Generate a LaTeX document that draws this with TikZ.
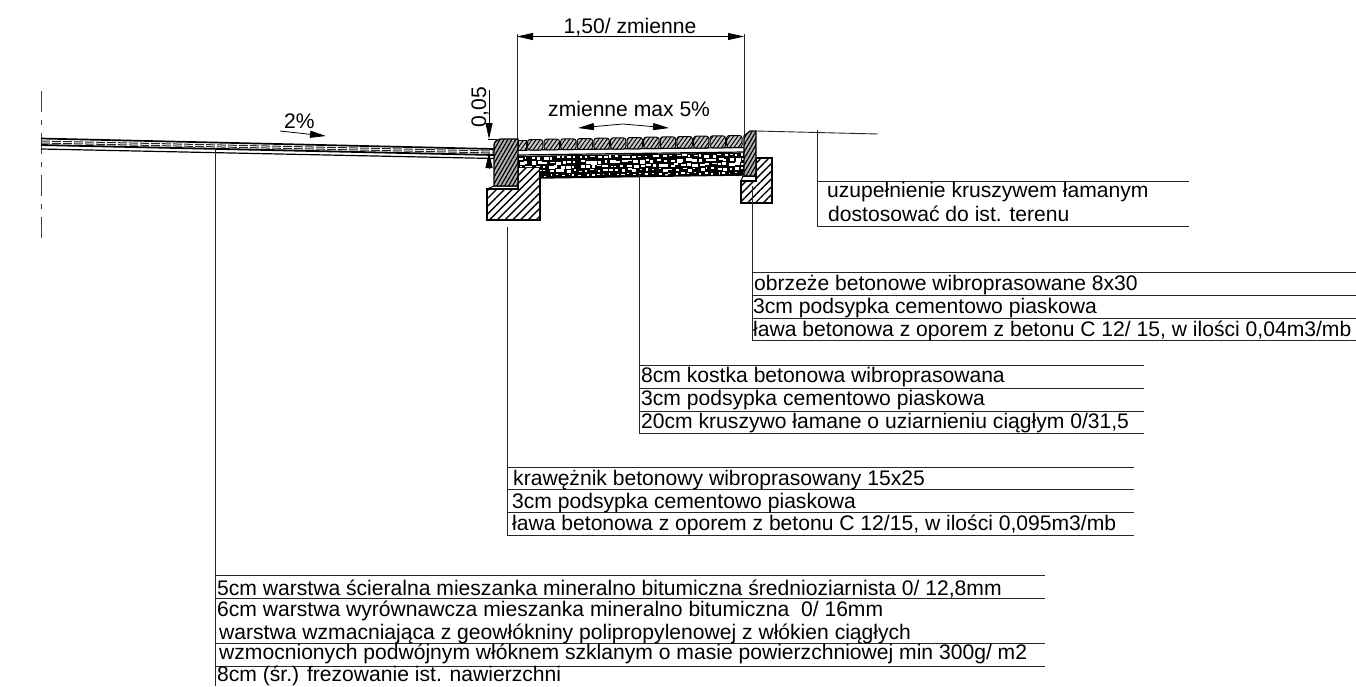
\documentclass[tikz,border=0pt]{standalone}
\usepackage{fontspec}
\setmainfont{Liberation Sans}
\usetikzlibrary{arrows.meta,patterns.meta}
\tikzset{
    opis/.style={anchor=base west, inner sep=0pt, font=\fontsize{21.1}{25}\selectfont},
    linia/.style={line width=0.9pt, black!85},
    ostro/.style={line width=0.8pt, >={Triangle[length=16pt,width=7pt]}},
    beton/.style={draw, line width=1.3pt, pattern={Lines[angle=45,distance=5.5pt,line width=1.4pt]}},
    krawez/.style={draw, line width=1.3pt, fill=black!30, postaction={pattern={Lines[angle=60,distance=3.4pt,line width=1.2pt]}}},
    kostka/.style={draw, line width=1pt, rounded corners=2.5pt, fill=black!22, postaction={pattern={Lines[angle=55,distance=3.4pt,line width=1pt]}}}
}
\begin{document}
\begin{tikzpicture}[x=1pt, y=-1pt]
    \useasboundingbox (0,0) rectangle (1356,686);

    % os i jezdnia
    \draw[line width=1pt, black!75, dash pattern=on 21pt off 8pt on 5pt off 8pt] (41,91) -- (41,240);
    \draw[line width=1.7pt] (41,138.5) -- (494,149);
    \draw[line width=1pt, black!85, dash pattern=on 9pt off 2pt] (41,141) -- (494,151);
    \draw[line width=1pt, black!85, dash pattern=on 9pt off 2pt] (41,143) -- (494,153);
    \draw[line width=1.8pt] (41,145) -- (494,155);
    \draw[line width=1.2pt] (41,149) -- (494,158.5);
    \coordinate (jezdnia) at (215,148);

    % lawa i kraweznik
    \draw[beton] (487,189) -- (518,189) -- (518,167) -- (540,167) -- (540,220) -- (487,220) -- cycle;
    \draw[line width=1pt] (487,189) -- (494,186) -- (518,186) -- (518,189);
    \draw[krawez] (494,186) -- (494,145) to[out=90,in=180] (502,139) -- (518,139) -- (518,186) -- cycle;

    % kruszywo
    \begin{scope}
        \clip (518,156) -- (744,152.5) -- (744,175) -- (540,178) -- (540,167) -- (518,167) -- cycle;
        \fill (518,150) rectangle (744,180);
        \pgfmathsetseed{11}
        \foreach \rz/\yy/\sz in {0/156.5/0.85,1/161/1.05,2/165.5/1,3/170/0.8,4/174.5/0.6}{
            \foreach \xx in {518,524,...,744}{
                \pgfmathsetmacro\ww{(2+4*rnd)*\sz}
                \pgfmathsetmacro\hh{(1.5+2*rnd)*\sz}
                \pgfmathsetmacro\dx{3*rnd}
                \pgfmathsetmacro\dy{1.5*rnd-(\xx-518)*0.0155}
                \fill[white] (\xx+\dx,\yy+\dy) rectangle ++(\ww,\hh);
            }
        }
    \end{scope}
    \draw[line width=1.2pt] (518,150) -- (744,147.5);
    \draw[line width=1.2pt] (518,155) -- (744,152);
    \draw[line width=1.4pt] (540,178) -- (744,175);

    % kostka
    \draw[kostka, rounded corners=0pt] (518,140.5) rectangle (526,150);
    \foreach \nr in {0,...,12}{
        \pgfmathsetmacro\xa{527.5+16.6*\nr}
        \pgfmathsetmacro\ya{139.5-0.33*\nr}
        \pgfmathsetmacro\yb{150-0.2*\nr}
        \draw[kostka] (\xa,\yb) rectangle (\xa+15.4,\ya);
    }

    % obrzeze i lawa
    \draw[beton] (741,181) -- (756,181) -- (756,158) -- (772,158) -- (772,203) -- (741,203) -- cycle;
    \draw[line width=1pt] (743,176) -- (741,181);
    \draw[line width=1pt] (743,176) -- (756,176);
    \draw[krawez] (744,176) -- (744,136) -- (750,131) -- (756,131) -- (756,176) -- cycle;
    \coordinate (teren a) at (756,131);
    \coordinate (teren b) at (878,134);
    \draw[linia] (teren a) -- (teren b);

    % wymiary
    \coordinate (wym a) at (517,34);
    \coordinate (wym b) at (744,34);
    \coordinate (wym c) at (517,139);
    \coordinate (wym d) at (744,135);
    \coordinate (wym e) at (517,36.5);
    \coordinate (wym f) at (744,36.5);
    \draw[linia] (wym a) -- (wym c);
    \draw[linia] (wym b) -- (wym d);
    \draw[ostro, <->] (wym e) -- (wym f);
    \node[opis, anchor=base] (szer) at (630,33) {1,50/ zmienne};

    \node[opis] (spadek) at (548,116) {zmienne max 5\%};
    \coordinate (sp a) at (578,128);
    \coordinate (sp b) at (623,124);
    \coordinate (sp c) at (669,128);
    \draw[ostro, <->] (sp a) -- (sp b) -- (sp c);

    \node[opis] (proc) at (284,128) {2\%};
    \coordinate (pr a) at (280,131);
    \coordinate (pr b) at (326,136);
    \draw[ostro, ->] (pr a) -- (pr b);

    \node[opis, rotate=90] (grub) at (486,128) {0,05};
    \coordinate (gr a) at (489,90);
    \coordinate (gr b) at (489,139);
    \coordinate (gr c) at (489,168);
    \coordinate (gr d) at (489,152);
    \draw[ostro, ->] (gr a) -- (gr b);
    \draw[ostro, ->] (gr c) -- (gr d);
    \draw[line width=0.6pt] (488,139) -- (497,139);

    % uzupelnienie
    \coordinate (uz a) at (817.5,130);
    \coordinate (uz b) at (817.5,226);
    \coordinate (uz c) at (817.5,181);
    \coordinate (uz d) at (1189,181);
    \coordinate (uz e) at (1189,226);
    \draw[linia] (uz a) -- (uz b) -- (uz e);
    \draw[linia] (uz c) -- (uz d);
    \node[opis] (uz t1) at (827,197) {uzupełnienie kruszywem łamanym};
    \node[opis] (uz t2) at (828,221) {dostosować do ist. terenu};

    % obrzeze
    \coordinate (ob a) at (752,186);
    \coordinate (ob b) at (752,340.5);
    \coordinate (ob c) at (752,272);
    \coordinate (ob d) at (1356,272);
    \coordinate (ob e) at (752,295);
    \coordinate (ob f) at (1356,295);
    \coordinate (ob g) at (752,318);
    \coordinate (ob h) at (1356,318);
    \coordinate (ob i) at (1356,340.5);
    \draw[linia] (ob a) -- (ob b) -- (ob i);
    \draw[linia] (ob c) -- (ob d);
    \draw[linia] (ob e) -- (ob f);
    \draw[linia] (ob g) -- (ob h);
    \node[opis] (ob t1) at (754,290.5) {obrzeże betonowe wibroprasowane 8x30};
    \node[opis] (ob t2) at (753,313.5) {3cm podsypka cementowo piaskowa};
    \node[opis] (ob t3) at (753,336) {ława betonowa z oporem z betonu C 12/ 15, w ilości 0,04m3/mb};

    % kostka opis
    \coordinate (ko a) at (639,175);
    \coordinate (ko b) at (639,433);
    \coordinate (ko c) at (639,365);
    \coordinate (ko d) at (1144,365);
    \coordinate (ko e) at (639,388);
    \coordinate (ko f) at (1144,388);
    \coordinate (ko g) at (639,411);
    \coordinate (ko h) at (1144,411);
    \coordinate (ko i) at (1144,433);
    \draw[linia] (ko a) -- (ko b) -- (ko i);
    \draw[linia] (ko c) -- (ko d);
    \draw[linia] (ko e) -- (ko f);
    \draw[linia] (ko g) -- (ko h);
    \node[opis] (ko t1) at (641,382.5) {8cm kostka betonowa wibroprasowana};
    \node[opis] (ko t2) at (641,405) {3cm podsypka cementowo piaskowa};
    \node[opis] (ko t3) at (641,428) {20cm kruszywo łamane o uziarnieniu ciągłym 0/31,5};

    % krawieznik opis
    \coordinate (kr a) at (507.5,227);
    \coordinate (kr b) at (507.5,535.5);
    \coordinate (kr c) at (507.5,467.5);
    \coordinate (kr d) at (1134,467.5);
    \coordinate (kr e) at (507.5,489.5);
    \coordinate (kr f) at (1134,489.5);
    \coordinate (kr g) at (507.5,512.5);
    \coordinate (kr h) at (1134,512.5);
    \coordinate (kr i) at (1134,535.5);
    \draw[linia] (kr a) -- (kr b) -- (kr i);
    \draw[linia] (kr c) -- (kr d);
    \draw[linia] (kr e) -- (kr f);
    \draw[linia] (kr g) -- (kr h);
    \node[opis] (kr t1) at (513,485.5) {krawężnik betonowy wibroprasowany 15x25};
    \node[opis] (kr t2) at (512,508) {3cm podsypka cementowo piaskowa};
    \node[opis] (kr t3) at (512,530.5) {ława betonowa z oporem z betonu C 12/15, w ilości 0,095m3/mb};

    % nawierzchnia opis
    \coordinate (na a) at (215,686);
    \coordinate (na b) at (215,575);
    \coordinate (na c) at (1045,575);
    \coordinate (na d) at (215,598);
    \coordinate (na e) at (1045,598);
    \coordinate (na f) at (215,643);
    \coordinate (na g) at (1045,643);
    \coordinate (na h) at (215,666);
    \coordinate (na i) at (1045,666);
    \draw[linia] (jezdnia) -- (na a);
    \draw[linia] (na b) -- (na c);
    \draw[linia] (na d) -- (na e);
    \draw[linia] (na f) -- (na g);
    \draw[linia] (na h) -- (na i);
    \node[opis] (na t1) at (217,595.5) {5cm warstwa ścieralna mieszanka mineralno bitumiczna średnioziarnista 0/ 12,8mm};
    \node[opis] (na t2) at (217,616.5) {6cm warstwa wyrównawcza mieszanka mineralno bitumiczna \ 0/ 16mm};
    \node[opis] (na t3) at (219,639) {warstwa wzmacniająca z geowłókniny polipropylenowej z włókien ciągłych};
    \node[opis] (na t4) at (219,659) {wzmocnionych podwójnym włóknem szklanym o masie powierzchniowej min 300g/ m2};
    \node[opis] (na t5) at (217,681.5) {8cm (śr.) frezowanie ist. nawierzchni};
\end{tikzpicture}
\end{document}
